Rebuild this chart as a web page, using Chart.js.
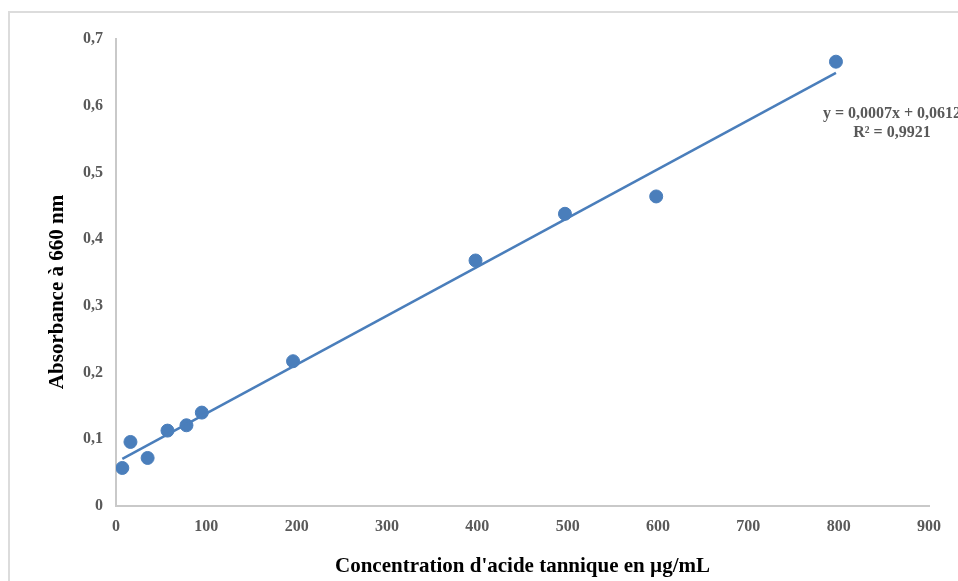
<!DOCTYPE html>
<html lang="fr">
<head>
<meta charset="utf-8">
<title>Courbe d'étalonnage - acide tannique</title>
<script src="https://cdn.jsdelivr.net/npm/chart.js@4.4.1/dist/chart.umd.min.js"></script>
<style>
  html, body { margin: 0; padding: 0; background: #fff; }
  #wrap { width: 958px; height: 581px; position: relative; }
</style>
</head>
<body>
<div id="wrap"><canvas id="calibChart" width="958" height="581"></canvas></div>
<script>
// Valeurs
const concentrations = [7, 16, 35, 57, 78, 95, 196, 398, 497, 598, 797]; // µg/mL
const absorbances = [0.057, 0.096, 0.072, 0.113, 0.121, 0.140, 0.217, 0.368, 0.438, 0.464, 0.666];
const xTicks = [0, 100, 200, 300, 400, 500, 600, 700, 800, 900];
const yTicks = [0, 0.1, 0.2, 0.3, 0.4, 0.5, 0.6, 0.7];
const equationLines = ['y = 0,0007x + 0,0612', 'R² = 0,9921'];
const yTitle = 'Absorbance à 660 nm';

// droite de tendance (moindres carrés) sur les points mesurés
const n = concentrations.length;
const mx = concentrations.reduce((a, b) => a + b, 0) / n;
const my = absorbances.reduce((a, b) => a + b, 0) / n;
let sxy = 0, sxx = 0;
concentrations.forEach((x, i) => {
    sxy += (x - mx) * (absorbances[i] - my);
    sxx += (x - mx) * (x - mx);
});
const slope = sxy / sxx;
const intercept = my - slope * mx;
const xMin = Math.min(...concentrations);
const xMax = Math.max(...concentrations);

const blue = '#4a7ebb';
const serif = "'Liberation Serif', 'Times New Roman', serif";

// cadre gris autour du graphique
const framePlugin = {
    id: 'frame',
    beforeDraw(chart) {
        const c = chart.ctx;
        c.save();
        c.fillStyle = '#dcdcdc';
        c.fillRect(8, 11, 2, chart.height);
        c.fillRect(8, 11, chart.width, 2);
        c.restore();
    }
};

// équation de la droite + titre de l'axe Y (un peu plus bas que le centre)
const textPlugin = {
    id: 'labels',
    afterDatasetsDraw(chart) {
        const c = chart.ctx;
        c.save();
        c.font = 'bold 16px ' + serif;
        c.fillStyle = '#595959';
        c.textAlign = 'center';
        c.textBaseline = 'middle';
        c.fillText(equationLines[0], 892, 114);
        c.fillText(equationLines[1], 892, 133);

        c.translate(58, 292);
        c.rotate(-Math.PI / 2);
        c.font = 'bold 21px ' + serif;
        c.fillStyle = '#000';
        c.fillText(yTitle, 0, 0);
        c.restore();
    }
};

new Chart(document.getElementById('calibChart'), {
    type: 'scatter',
    data: {
        datasets: [
            {
                label: 'Tendance',
                type: 'line',
                data: [
                    { x: xMin, y: intercept + slope * xMin },
                    { x: xMax, y: intercept + slope * xMax }
                ],
                borderColor: blue,
                borderWidth: 2.5,
                pointRadius: 0,
                fill: false
            },
            {
                label: 'Absorbance',
                data: concentrations.map((x, i) => ({ x: x, y: absorbances[i] })),
                backgroundColor: blue,
                borderColor: blue,
                pointRadius: 6.5,
                pointHoverRadius: 6.5
            }
        ]
    },
    options: {
        responsive: false,
        animation: false,
        layout: { padding: { left: 0, right: 29, top: 39, bottom: 0 } },
        plugins: {
            legend: { display: false },
            tooltip: { enabled: false }
        },
        scales: {
            x: {
                type: 'linear',
                min: 0,
                max: 900,
                afterBuildTicks: s => { s.ticks = xTicks.map(v => ({ value: v })); },
                afterFit: s => { s.height = 75; },
                grid: { display: true, drawOnChartArea: false, drawTicks: false },
                border: { color: '#c9c9c9', width: 2 },
                ticks: {
                    padding: 11,
                    color: '#595959',
                    font: { family: serif, size: 16, weight: 'bold' }
                },
                title: {
                    display: true,
                    text: "Concentration d'acide tannique en µg/mL",
                    color: '#000',
                    font: { family: serif, size: 21, weight: 'bold' },
                    padding: { top: 0, bottom: 2 }
                }
            },
            y: {
                type: 'linear',
                min: 0,
                max: 0.7,
                afterBuildTicks: s => { s.ticks = yTicks.map(v => ({ value: v })); },
                afterFit: s => { s.width = 116; },
                grid: { display: true, drawOnChartArea: false, drawTicks: false },
                border: { color: '#c9c9c9', width: 2 },
                ticks: {
                    padding: 13,
                    color: '#595959',
                    font: { family: serif, size: 16, weight: 'bold' },
                    callback: v => v === 0 ? '0' : v.toFixed(1).replace('.', ',')
                },
                title: { display: false }
            }
        }
    },
    plugins: [framePlugin, textPlugin]
});
</script>
</body>
</html>
